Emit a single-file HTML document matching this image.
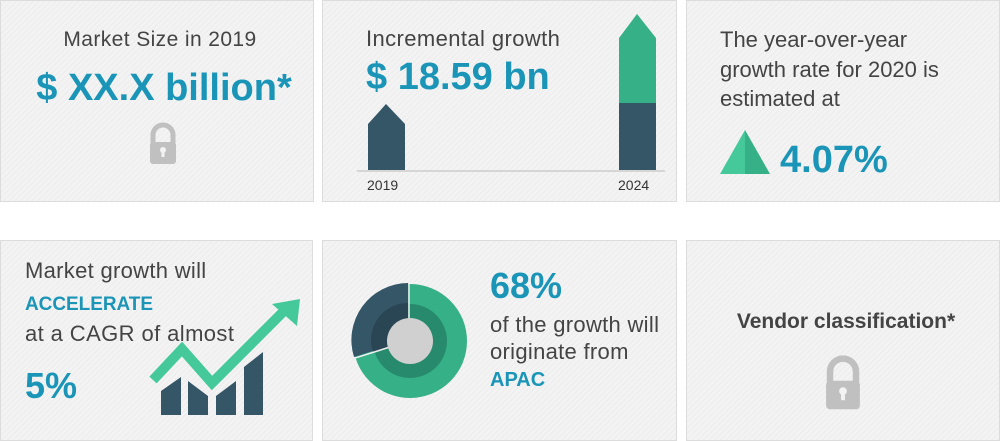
<!DOCTYPE html>
<html><head><meta charset="utf-8"><style>
html,body{margin:0;padding:0;background:#fff;width:1000px;height:441px;overflow:hidden}
svg{display:block}
text{font-family:"Liberation Sans",sans-serif}
</style></head><body>
<svg width="1000" height="441" viewBox="0 0 1000 441" xmlns="http://www.w3.org/2000/svg">
<defs>
<pattern id="h" width="4" height="4" patternUnits="userSpaceOnUse" patternTransform="rotate(45)">
<rect width="4" height="4" fill="#f3f3f3"/><rect width="1" height="4" fill="#ececec"/>
</pattern>
<g id="lock"><path d="M-10 0 v-8 a10 10 0 0 1 20 0 v8" fill="none" stroke="#c0c0c0" stroke-width="5"/><rect x="-13" y="-1" width="26" height="22" rx="3" fill="#c0c0c0"/><circle cx="0" cy="7" r="3" fill="#f3f3f3"/><rect x="-1.5" y="8" width="3" height="6" fill="#f3f3f3"/></g>
</defs>
<g fill="url(#h)" stroke="#dcdcdc" stroke-width="1">
<rect x="0.5" y="0.5" width="313" height="201"/>
<rect x="322.5" y="0.5" width="354" height="201"/>
<rect x="686.5" y="0.5" width="313" height="201"/>
<rect x="0.5" y="240.5" width="312" height="200"/>
<rect x="322.5" y="240.5" width="354" height="200"/>
<rect x="686.5" y="240.5" width="313" height="200"/>
</g>
<!-- card1 -->
<text x="160" y="46" text-anchor="middle" font-size="21" letter-spacing="0.4" fill="#444">Market Size in 2019</text>
<text x="164" y="100" text-anchor="middle" font-size="38" font-weight="bold" fill="#1a95b8">$ XX.X billion*</text>
<use href="#lock" x="163" y="143"/>
<!-- card2 -->
<text x="366" y="46" font-size="22" letter-spacing="0.4" fill="#444">Incremental growth</text>
<text x="366" y="89" font-size="38" font-weight="bold" fill="#1a95b8">$ 18.59 bn</text>
<line x1="357" y1="171" x2="665" y2="171" stroke="#ccc" stroke-width="1.5"/>
<path d="M368 170 V124 L386 104 L405 124 V170Z" fill="#345667"/>
<path d="M619 103 V38 L637 14 L656 38 V103Z" fill="#36b086"/>
<rect x="619" y="103" width="37" height="67" fill="#345667"/>
<text x="367" y="190" font-size="14" fill="#333">2019</text>
<text x="618" y="190" font-size="14" fill="#333">2024</text>
<!-- card3 -->
<text x="720" y="47" font-size="22" fill="#444">The year-over-year</text>
<text x="720" y="77" font-size="22" fill="#444">growth rate for 2020 is</text>
<text x="720" y="106" font-size="22" fill="#444">estimated at</text>
<path d="M720 174 L745 130 V174Z" fill="#45c99b"/>
<path d="M745 130 L770 174 H745Z" fill="#36b086"/>
<text x="780" y="172" font-size="38" font-weight="bold" fill="#1a95b8">4.07%</text>
<!-- card4 -->
<text x="25" y="278" font-size="22" letter-spacing="0.3" fill="#444">Market growth will</text>
<text x="25" y="310" font-size="19" font-weight="bold" fill="#1a95b8" textLength="128">ACCELERATE</text>
<text x="25" y="341" font-size="22" letter-spacing="0.4" fill="#444">at a CAGR of almost</text>
<text x="25" y="398" font-size="36" font-weight="bold" fill="#1a95b8">5%</text>
<g fill="#345667">
<path d="M161 415 V391 L181 377 V415Z"/>
<path d="M188 415 V381 L208 396 V415Z"/>
<path d="M216 415 V396 L236 381 V415Z"/>
<path d="M244 415 V367 L263 352 V415Z"/>
</g>
<path d="M153 380 L182 349 L212 383 L286 309" fill="none" stroke="#45c99b" stroke-width="10" stroke-linejoin="miter"/>
<path d="M272 304 L300 299 L297 326Z" fill="#45c99b"/>
<!-- card5 -->
<circle cx="410" cy="341" r="57" fill="#36b086"/>
<circle cx="410" cy="341" r="37" fill="#288a6c"/>
<path d="M408 340 V283 A57 57 0 0 0 354 357Z" fill="#345667"/>
<path d="M408 340 V303 A37 37 0 0 0 373 352Z" fill="#2a4655"/>
<line x1="409" y1="281" x2="409" y2="341" stroke="#eee" stroke-width="1.5"/>
<line x1="409" y1="341" x2="352" y2="359" stroke="#eee" stroke-width="1.5"/>
<circle cx="410" cy="341" r="23" fill="#d0d0d0"/>
<text x="490" y="298" font-size="36" font-weight="bold" fill="#1a95b8">68%</text>
<text x="490" y="332" font-size="22" letter-spacing="0.3" fill="#444">of the growth will</text>
<text x="490" y="359" font-size="22" letter-spacing="0.3" fill="#444">originate from</text>
<text x="490" y="386" font-size="20" font-weight="bold" fill="#1a95b8">APAC</text>
<!-- card6 -->
<text x="846" y="328" text-anchor="middle" font-size="21" font-weight="bold" fill="#444">Vendor classification*</text>
<use href="#lock" transform="translate(843 382) scale(1.3)"/>
</svg>
</body></html>
